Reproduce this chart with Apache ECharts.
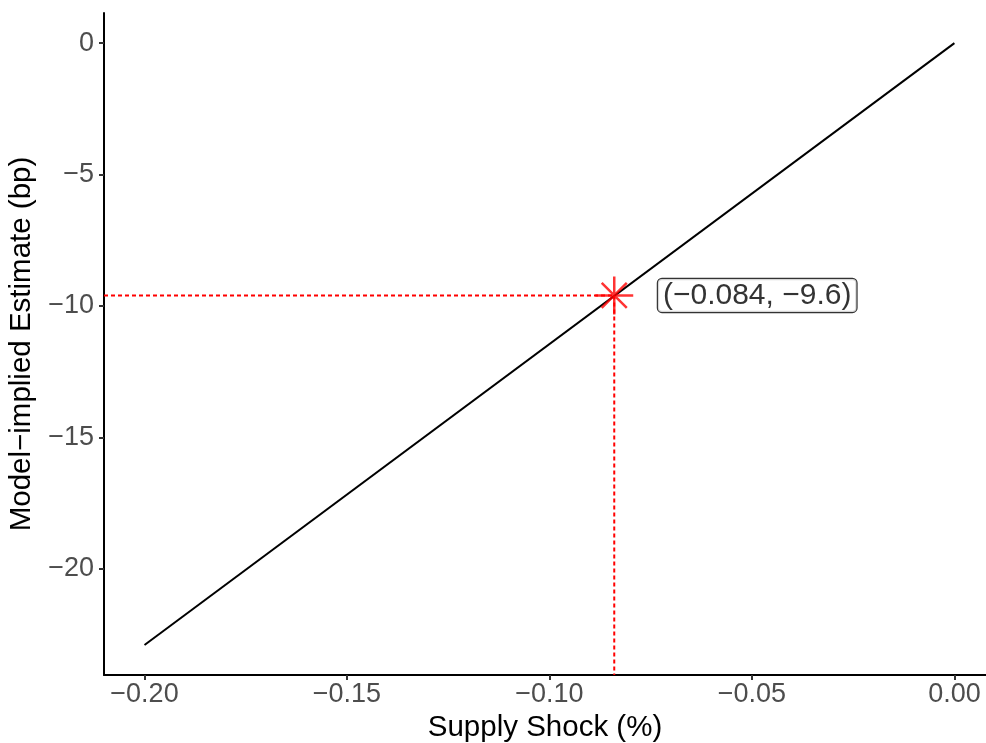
<!DOCTYPE html>
<html>
<head>
<meta charset="utf-8">
<script src="https://cdn.jsdelivr.net/npm/echarts@6/dist/echarts.min.js"></script>
<style>html,body{margin:0;padding:0;background:#fff}#c{width:986px;height:743px}</style>
</head>
<body>
<div id="c"></div>
<script>
// Data
const lineX = [-0.20, 0.00];
const lineY = [-22.9, 0.0];
const pointX = -0.084;
const pointY = -9.6;
const labelText = '(−0.084, −9.6)';
const labelX = -0.0487;
const xTicks = [-0.20, -0.15, -0.10, -0.05, 0.00];
const yTicks = [-20, -15, -10, -5, 0];
const xLimits = [-0.21, 0.0078];
const yLimits = [-24.04, 1.145];

const fmtMinus = (s) => s.replace('-', '−');
const chart = echarts.init(document.getElementById('c'));
const font = 'Liberation Sans, Arial, Helvetica, sans-serif';

chart.setOption({
  animation: false,
  grid: {left: 104, right: 0, top: 13, bottom: 68, outerBoundsMode: 'none', containLabel: false},
  xAxis: {
    type: 'value', min: xLimits[0], max: xLimits[1],
    name: 'Supply Shock (%)', nameLocation: 'middle', nameGap: 38,
    nameTextStyle: {color: '#000', fontSize: 29.5, fontFamily: font},
    axisLine: {show: true, onZero: false, lineStyle: {color: '#000', width: 2}},
    axisTick: {show: true, inside: false, length: 5, lineStyle: {color: '#333', width: 2}, customValues: xTicks},
    axisLabel: {color: '#4D4D4D', fontSize: 27, fontFamily: font, margin: 6, customValues: xTicks,
      formatter: v => fmtMinus(v.toFixed(2))},
    splitLine: {show: false}
  },
  yAxis: {
    type: 'value', min: yLimits[0], max: yLimits[1],
    name: 'Model−implied Estimate (bp)', nameLocation: 'middle', nameGap: 56,
    nameTextStyle: {color: '#000', fontSize: 29.5, fontFamily: font},
    axisLine: {show: true, onZero: false, lineStyle: {color: '#000', width: 2}},
    axisTick: {show: true, inside: false, length: 5, lineStyle: {color: '#333', width: 2}, customValues: yTicks},
    axisLabel: {color: '#4D4D4D', fontSize: 27, fontFamily: font, margin: 10, customValues: yTicks,
      formatter: v => fmtMinus(String(Math.round(v)))},
    splitLine: {show: false}
  },
  series: [
    {
      type: 'line', data: lineX.map((x, i) => [x, lineY[i]]), symbol: 'none',
      lineStyle: {color: '#000', width: 2}, z: 2
    },
    {
      type: 'line', data: [[xLimits[0], pointY], [pointX, pointY]], symbol: 'none',
      lineStyle: {color: '#FF0000', width: 2, type: [4, 3]}, z: 3
    },
    {
      type: 'line', data: [[pointX, pointY], [pointX, yLimits[0]]], symbol: 'none',
      lineStyle: {color: '#FF0000', width: 2, type: [4, 3]}, z: 3
    },
    {
      type: 'scatter', data: [[pointX, pointY]], symbolSize: 38,
      symbol: 'path://M0,-1L0,1M-1,0L1,0M-0.66,-0.66L0.66,0.66M-0.66,0.66L0.66,-0.66',
      itemStyle: {color: 'none', borderColor: '#FF0000', borderWidth: 2.5}, z: 4
    },
    {
      type: 'scatter', data: [[labelX, pointY]], symbolSize: 0, z: 5,
      label: {show: true, position: 'inside', formatter: labelText, color: '#000', fontSize: 30, fontFamily: font,
        backgroundColor: '#fff', borderColor: '#000', borderWidth: 1.2, borderRadius: 4, padding: [2, 5, 1, 5]}
    }
  ]
});
</script>
</body>
</html>
